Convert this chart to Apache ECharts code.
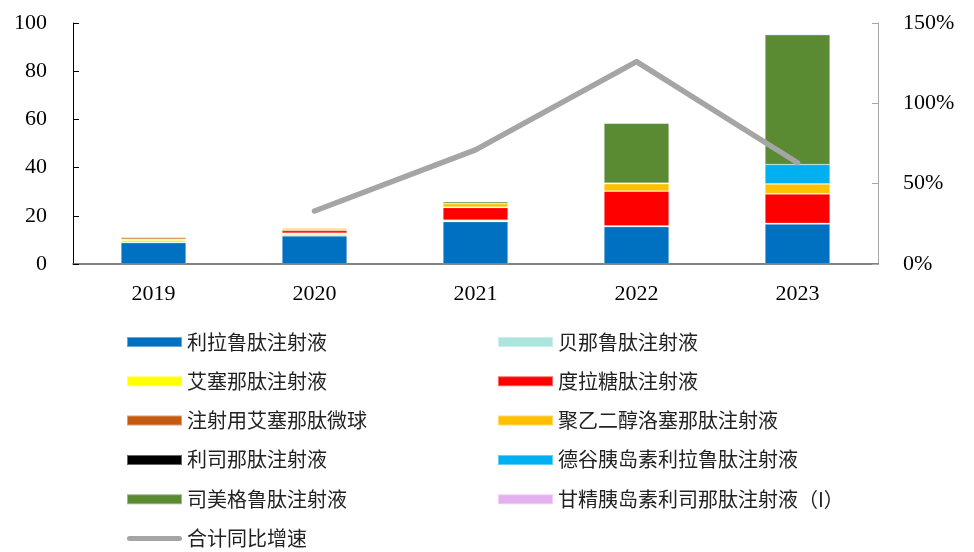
<!DOCTYPE html>
<html>
<head>
<meta charset="utf-8">
<script src="https://cdn.jsdelivr.net/npm/echarts@6/dist/echarts.min.js"></script>
<style>
  html, body { margin: 0; padding: 0; background: #fff; }
  #chart { width: 974px; height: 552px; }
</style>
</head>
<body>
<div id="chart"></div>
<script>
// Years on the category axis
const years = ['2019', '2020', '2021', '2022', '2023'];

// Sales by product (亿元), stacked bottom to top
const liraglutide      = [8.8, 11.6, 17.6, 15.5, 16.6];   // 利拉鲁肽注射液
const beinaglutide     = [0.8, 0.6, 0.2, 0.2, 0.2];       // 贝那鲁肽注射液
const exenatide        = [0.8, 0.6, 0.4, 0.1, 0.1];       // 艾塞那肽注射液
const dulaglutide      = [0, 1.0, 5.2, 14.4, 12.2];       // 度拉糖肽注射液
const exenatideMicro   = [0.8, 0.4, 0.2, 0.1, 0.1];       // 注射用艾塞那肽微球
const polyLoxenatide   = [0, 0.7, 1.4, 3.0, 4.0];         // 聚乙二醇洛塞那肽注射液
const lixisenatide     = [0, 0.3, 0.1, 0.1, 0.1];         // 利司那肽注射液
const degludecLira     = [0, 0, 0, 0.2, 8.0];             // 德谷胰岛素利拉鲁肽注射液
const semaglutide      = [0, 0, 0.7, 24.8, 53.8];         // 司美格鲁肽注射液
const glargineLixi     = [0, 0, 0, 0, 0.4];               // 甘精胰岛素利司那肽注射液（I）

// Year-on-year growth of the total (%)
const totalGrowth = [null, 33, 71, 126, 63];

// Axis ticks
const leftTicks = { min: 0, max: 100, interval: 20 };
const rightTicks = { min: 0, max: 150, interval: 50 };

const barSeries = [
  { name: '利拉鲁肽注射液', data: liraglutide, color: '#0070C0' },
  { name: '贝那鲁肽注射液', data: beinaglutide, color: '#ABE5DE' },
  { name: '艾塞那肽注射液', data: exenatide, color: '#FFFF00' },
  { name: '度拉糖肽注射液', data: dulaglutide, color: '#FF0000' },
  { name: '注射用艾塞那肽微球', data: exenatideMicro, color: '#C55A11' },
  { name: '聚乙二醇洛塞那肽注射液', data: polyLoxenatide, color: '#FFC000' },
  { name: '利司那肽注射液', data: lixisenatide, color: '#000000' },
  { name: '德谷胰岛素利拉鲁肽注射液', data: degludecLira, color: '#00B0F0' },
  { name: '司美格鲁肽注射液', data: semaglutide, color: '#5A8A32' },
  { name: '甘精胰岛素利司那肽注射液（I）', data: glargineLixi, color: '#E4B0F0' }
];

const series = barSeries.map(s => ({
  name: s.name,
  type: 'bar',
  stack: 'total',
  barWidth: 65,
  yAxisIndex: 0,
  data: s.data,
  itemStyle: { color: s.color, borderColor: 'rgba(255,255,255,0.4)', borderWidth: 0.6 }
}));

series.push({
  name: '合计同比增速',
  type: 'line',
  yAxisIndex: 1,
  data: totalGrowth,
  symbol: 'none',
  connectNulls: false,
  z: 10,
  lineStyle: { color: '#A5A5A5', width: 5.5, cap: 'round', join: 'round' },
  itemStyle: { color: '#A5A5A5' }
});

const legendText = {
  fontFamily: '"Noto Sans CJK SC", sans-serif',
  fontSize: 20,
  color: '#222',
  lineHeight: 20
};

const leftColumn = ['利拉鲁肽注射液', '艾塞那肽注射液', '注射用艾塞那肽微球', '利司那肽注射液', '司美格鲁肽注射液', '合计同比增速'];
const rightColumn = ['贝那鲁肽注射液', '度拉糖肽注射液', '聚乙二醇洛塞那肽注射液', '德谷胰岛素利拉鲁肽注射液', '甘精胰岛素利司那肽注射液（I）'];

function legendBlock(names, left) {
  return {
    orient: 'vertical',
    left: left,
    top: 332,
    itemWidth: 55,
    itemHeight: 10,
    itemGap: 19.3,
    padding: 0,
    selectedMode: false,
    textStyle: legendText,
    data: names.map(n => n === '合计同比增速'
      ? { name: n, icon: 'path://M2.5,0 L52.5,0 A2.5,2.5 0 0 1 52.5,5 L2.5,5 A2.5,2.5 0 0 1 2.5,0 Z', itemStyle: { color: '#A5A5A5' } }
      : { name: n, icon: 'rect' })
  };
}

const axisFont = { fontFamily: '"Liberation Serif", "Times New Roman", serif', fontSize: 22, color: '#000' };

const option = {
  animation: false,
  backgroundColor: '#fff',
  grid: { left: 73, right: 96, top: 23, bottom: 288, containLabel: false },
  legend: [legendBlock(leftColumn, 126), legendBlock(rightColumn, 497)],
  xAxis: {
    type: 'category',
    data: years,
    axisLine: { lineStyle: { color: '#595959', width: 1.5 } },
    axisTick: { inside: true, length: 6, lineStyle: { color: '#000' } },
    axisLabel: { ...axisFont, margin: 19 }
  },
  yAxis: [
    {
      type: 'value',
      min: leftTicks.min, max: leftTicks.max, interval: leftTicks.interval,
      axisLine: { show: true, lineStyle: { color: '#000' } },
      axisTick: { show: true, inside: true, length: 6, lineStyle: { color: '#000' } },
      splitLine: { show: false },
      axisLabel: { ...axisFont, margin: 26 }
    },
    {
      type: 'value',
      min: rightTicks.min, max: rightTicks.max, interval: rightTicks.interval,
      position: 'right',
      axisLine: { show: true, lineStyle: { color: '#A6A6A6' } },
      axisTick: { show: true, inside: true, length: 6, lineStyle: { color: '#A6A6A6' } },
      splitLine: { show: false },
      axisLabel: { ...axisFont, margin: 25, formatter: '{value}%' }
    }
  ],
  series: series
};

const chart = echarts.init(document.getElementById('chart'), null, { renderer: 'canvas' });
chart.setOption(option);
</script>
</body>
</html>
